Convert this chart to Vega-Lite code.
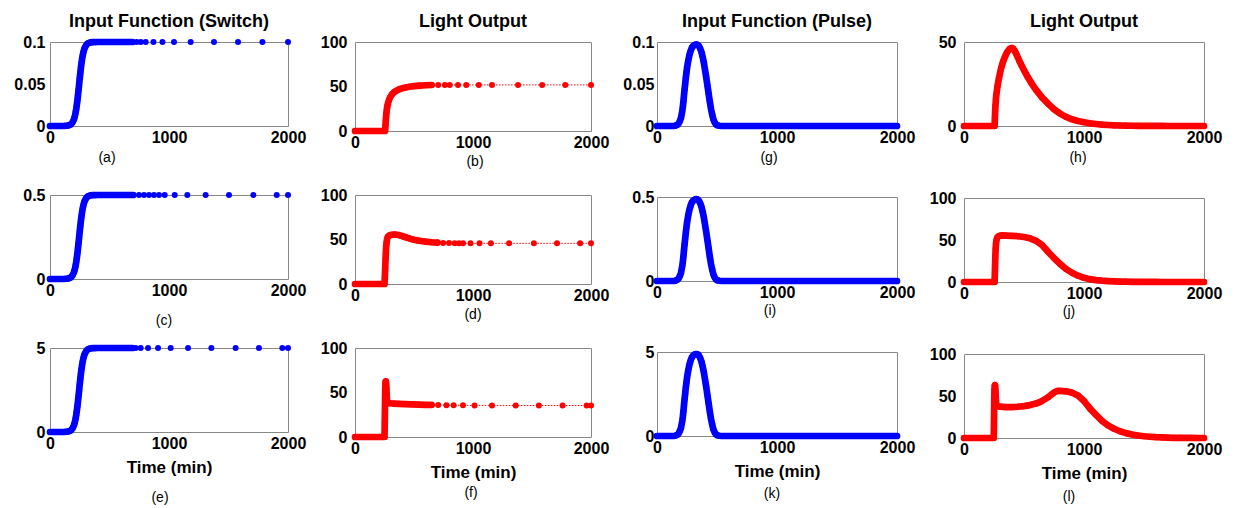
{
"$schema": "https://vega.github.io/schema/vega-lite/v6.json",
"background": "white",
"padding": {"left": 13, "top": 12, "right": 0, "bottom": 0},
"config": {
  "view": {"stroke": "#888888", "strokeWidth": 1},
  "font": "Liberation Sans",
  "title": {"font": "Liberation Sans", "fontSize": 14, "fontWeight": "normal", "color": "#000000", "anchor": "middle", "frame": "group"},
  "axis": {"labelFont": "Liberation Sans", "labelFontSize": 16, "labelFontWeight": "bold", "labelColor": "#000000", "domain": false, "ticks": false, "grid": false, "labelFlush": false, "labelOverlap": false, "titleFont": "Liberation Sans", "titleFontSize": 17, "titleFontWeight": "bold", "titleColor": "#000000"},
  "axisX": {"labelPadding": 3, "titlePadding": 8, "format": "d"},
  "axisY": {"labelPadding": 5, "format": ".2~f"}
},
"datasets": {
  "a": [{"t":0,"v":0},{"t":20,"v":0},{"t":40,"v":0},{"t":60,"v":0},{"t":80,"v":0},{"t":100,"v":0},{"t":120,"v":0.0001},{"t":140,"v":0.0003},{"t":150,"v":0.0005},{"t":160,"v":0.0009},{"t":170,"v":0.0015},{"t":180,"v":0.0026},{"t":190,"v":0.0045},{"t":200,"v":0.0076},{"t":205,"v":0.0098},{"t":210,"v":0.0125},{"t":215,"v":0.0159},{"t":220,"v":0.02},{"t":225,"v":0.0248},{"t":230,"v":0.0303},{"t":235,"v":0.0365},{"t":240,"v":0.0431},{"t":245,"v":0.05},{"t":250,"v":0.0569},{"t":255,"v":0.0635},{"t":260,"v":0.0697},{"t":265,"v":0.0752},{"t":270,"v":0.08},{"t":275,"v":0.0841},{"t":280,"v":0.0875},{"t":285,"v":0.0902},{"t":290,"v":0.0924},{"t":300,"v":0.0952},{"t":310,"v":0.0974},{"t":320,"v":0.0985},{"t":330,"v":0.0991},{"t":340,"v":0.0995},{"t":360,"v":0.0998},{"t":380,"v":0.0999},{"t":400,"v":0.1},{"t":450,"v":0.1},{"t":500,"v":0.1},{"t":550,"v":0.1},{"t":600,"v":0.1},{"t":650,"v":0.1},{"t":692,"v":0.1},{"t":728,"v":0.1},{"t":762,"v":0.1},{"t":804,"v":0.1},{"t":869,"v":0.1},{"t":945,"v":0.1},{"t":1042,"v":0.1},{"t":1182,"v":0.1},{"t":1378,"v":0.1},{"t":1580,"v":0.1},{"t":1785,"v":0.1},{"t":2000,"v":0.1}],
  "c": [{"t":0,"v":0},{"t":20,"v":0},{"t":40,"v":0},{"t":60,"v":0},{"t":80,"v":0},{"t":100,"v":0},{"t":120,"v":0.0005},{"t":140,"v":0.0015},{"t":150,"v":0.0025},{"t":160,"v":0.0045},{"t":170,"v":0.0075},{"t":180,"v":0.013},{"t":190,"v":0.0225},{"t":200,"v":0.038},{"t":205,"v":0.049},{"t":210,"v":0.0625},{"t":215,"v":0.0795},{"t":220,"v":0.1},{"t":225,"v":0.124},{"t":230,"v":0.1515},{"t":235,"v":0.1825},{"t":240,"v":0.2155},{"t":245,"v":0.25},{"t":250,"v":0.2845},{"t":255,"v":0.3175},{"t":260,"v":0.3485},{"t":265,"v":0.376},{"t":270,"v":0.4},{"t":275,"v":0.4205},{"t":280,"v":0.4375},{"t":285,"v":0.451},{"t":290,"v":0.462},{"t":300,"v":0.476},{"t":310,"v":0.487},{"t":320,"v":0.4925},{"t":330,"v":0.4955},{"t":340,"v":0.4975},{"t":360,"v":0.499},{"t":380,"v":0.4995},{"t":400,"v":0.5},{"t":450,"v":0.5},{"t":500,"v":0.5},{"t":550,"v":0.5},{"t":600,"v":0.5},{"t":650,"v":0.5},{"t":700,"v":0.5},{"t":748,"v":0.5},{"t":790,"v":0.5},{"t":832,"v":0.5},{"t":874,"v":0.5},{"t":916,"v":0.5},{"t":964,"v":0.5},{"t":1048,"v":0.5},{"t":1154,"v":0.5},{"t":1308,"v":0.5},{"t":1504,"v":0.5},{"t":1709,"v":0.5},{"t":1905,"v":0.5},{"t":2000,"v":0.5}],
  "e": [{"t":0,"v":0},{"t":20,"v":0},{"t":40,"v":0},{"t":60,"v":0},{"t":80,"v":0},{"t":100,"v":0},{"t":120,"v":0.005},{"t":140,"v":0.015},{"t":150,"v":0.025},{"t":160,"v":0.045},{"t":170,"v":0.075},{"t":180,"v":0.13},{"t":190,"v":0.225},{"t":200,"v":0.38},{"t":205,"v":0.49},{"t":210,"v":0.625},{"t":215,"v":0.795},{"t":220,"v":1},{"t":225,"v":1.24},{"t":230,"v":1.515},{"t":235,"v":1.825},{"t":240,"v":2.155},{"t":245,"v":2.5},{"t":250,"v":2.845},{"t":255,"v":3.175},{"t":260,"v":3.485},{"t":265,"v":3.76},{"t":270,"v":4},{"t":275,"v":4.205},{"t":280,"v":4.375},{"t":285,"v":4.51},{"t":290,"v":4.62},{"t":300,"v":4.76},{"t":310,"v":4.87},{"t":320,"v":4.925},{"t":330,"v":4.955},{"t":340,"v":4.975},{"t":360,"v":4.99},{"t":380,"v":4.995},{"t":400,"v":5},{"t":450,"v":5},{"t":500,"v":5},{"t":550,"v":5},{"t":600,"v":5},{"t":650,"v":5},{"t":692,"v":5},{"t":720,"v":5},{"t":762,"v":5},{"t":824,"v":5},{"t":908,"v":5},{"t":1014,"v":5},{"t":1160,"v":5},{"t":1356,"v":5},{"t":1560,"v":5},{"t":1756,"v":5},{"t":1952,"v":5},{"t":2000,"v":5}],
  "b": [{"t":0,"v":0},{"t":50,"v":0},{"t":100,"v":0},{"t":150,"v":0},{"t":200,"v":0},{"t":250,"v":0},{"t":255,"v":0},{"t":258,"v":6},{"t":261,"v":12},{"t":264,"v":17},{"t":267,"v":21},{"t":270,"v":24.5},{"t":275,"v":28.5},{"t":280,"v":31.5},{"t":290,"v":35.5},{"t":300,"v":38.5},{"t":315,"v":41.5},{"t":330,"v":43.5},{"t":350,"v":45.3},{"t":375,"v":46.9},{"t":400,"v":47.9},{"t":430,"v":48.9},{"t":460,"v":49.7},{"t":500,"v":50.4},{"t":550,"v":51},{"t":600,"v":51.4},{"t":650,"v":51.7},{"t":705,"v":51.8},{"t":761,"v":51.8},{"t":803,"v":51.8},{"t":873,"v":51.8},{"t":943,"v":51.8},{"t":1049,"v":51.8},{"t":1161,"v":51.8},{"t":1382,"v":51.8},{"t":1586,"v":51.8},{"t":1782,"v":51.8},{"t":2000,"v":51.8}],
  "d": [{"t":0,"v":0},{"t":50,"v":0},{"t":100,"v":0},{"t":150,"v":0},{"t":200,"v":0},{"t":250,"v":0},{"t":253,"v":8},{"t":256,"v":18},{"t":259,"v":28},{"t":262,"v":37},{"t":265,"v":43},{"t":268,"v":47},{"t":272,"v":50.5},{"t":278,"v":53},{"t":290,"v":54.5},{"t":310,"v":55.3},{"t":330,"v":55.5},{"t":350,"v":55.4},{"t":370,"v":55},{"t":390,"v":54.3},{"t":410,"v":53.4},{"t":430,"v":52.5},{"t":450,"v":51.6},{"t":475,"v":50.6},{"t":500,"v":49.8},{"t":530,"v":49},{"t":560,"v":48.3},{"t":600,"v":47.6},{"t":650,"v":46.9},{"t":700,"v":46.5},{"t":747,"v":46.2},{"t":797,"v":46},{"t":845,"v":45.9},{"t":881,"v":45.8},{"t":915,"v":45.8},{"t":979,"v":45.7},{"t":1055,"v":45.7},{"t":1152,"v":45.7},{"t":1306,"v":45.7},{"t":1516,"v":45.7},{"t":1712,"v":45.7},{"t":1908,"v":45.7},{"t":2000,"v":45.7}],
  "f": [{"t":0,"v":0},{"t":50,"v":0},{"t":100,"v":0},{"t":150,"v":0},{"t":200,"v":0},{"t":248,"v":0},{"t":250,"v":0},{"t":252,"v":15},{"t":254,"v":35},{"t":256,"v":52},{"t":258,"v":60},{"t":260,"v":62.5},{"t":262,"v":62.5},{"t":264,"v":60},{"t":266,"v":55},{"t":268,"v":48},{"t":270,"v":43},{"t":273,"v":40},{"t":277,"v":38.8},{"t":285,"v":38.2},{"t":300,"v":37.9},{"t":330,"v":37.6},{"t":370,"v":37.3},{"t":420,"v":37},{"t":480,"v":36.7},{"t":540,"v":36.4},{"t":600,"v":36.2},{"t":649,"v":36},{"t":705,"v":35.9},{"t":775,"v":35.8},{"t":836,"v":35.7},{"t":915,"v":35.6},{"t":1013,"v":35.5},{"t":1161,"v":35.5},{"t":1362,"v":35.4},{"t":1558,"v":35.4},{"t":1759,"v":35.4},{"t":1963,"v":35.4},{"t":2000,"v":35.4}],
  "g": [{"t":0,"v":0},{"t":50,"v":0},{"t":100,"v":0},{"t":140,"v":0},{"t":150,"v":0.0003},{"t":160,"v":0.0008},{"t":170,"v":0.0015},{"t":180,"v":0.0029},{"t":190,"v":0.0058},{"t":200,"v":0.0097},{"t":210,"v":0.0175},{"t":215,"v":0.0223},{"t":220,"v":0.0291},{"t":225,"v":0.0369},{"t":230,"v":0.0437},{"t":235,"v":0.0504},{"t":240,"v":0.0572},{"t":245,"v":0.0631},{"t":250,"v":0.0689},{"t":260,"v":0.0776},{"t":270,"v":0.0844},{"t":280,"v":0.0892},{"t":290,"v":0.0931},{"t":300,"v":0.0951},{"t":310,"v":0.096},{"t":320,"v":0.097},{"t":330,"v":0.097},{"t":340,"v":0.0965},{"t":350,"v":0.0951},{"t":360,"v":0.0922},{"t":370,"v":0.0883},{"t":380,"v":0.0825},{"t":390,"v":0.0757},{"t":400,"v":0.0669},{"t":410,"v":0.0582},{"t":420,"v":0.0485},{"t":430,"v":0.0388},{"t":440,"v":0.0291},{"t":450,"v":0.0204},{"t":460,"v":0.0136},{"t":470,"v":0.0078},{"t":480,"v":0.0044},{"t":490,"v":0.0021},{"t":500,"v":0.001},{"t":520,"v":0.0003},{"t":540,"v":0},{"t":580,"v":0},{"t":620,"v":0},{"t":660,"v":0},{"t":700,"v":0},{"t":740,"v":0},{"t":780,"v":0},{"t":820,"v":0},{"t":860,"v":0},{"t":900,"v":0},{"t":940,"v":0},{"t":980,"v":0},{"t":1020,"v":0},{"t":1060,"v":0},{"t":1100,"v":0},{"t":1140,"v":0},{"t":1180,"v":0},{"t":1220,"v":0},{"t":1260,"v":0},{"t":1300,"v":0},{"t":1340,"v":0},{"t":1380,"v":0},{"t":1420,"v":0},{"t":1460,"v":0},{"t":1500,"v":0},{"t":1540,"v":0},{"t":1580,"v":0},{"t":1620,"v":0},{"t":1660,"v":0},{"t":1700,"v":0},{"t":1740,"v":0},{"t":1780,"v":0},{"t":1820,"v":0},{"t":1860,"v":0},{"t":1900,"v":0},{"t":1940,"v":0},{"t":1980,"v":0},{"t":2000,"v":0}],
  "i": [{"t":0,"v":0},{"t":50,"v":0},{"t":100,"v":0},{"t":140,"v":0},{"t":150,"v":0.0015},{"t":160,"v":0.0039},{"t":170,"v":0.0073},{"t":180,"v":0.0146},{"t":190,"v":0.0292},{"t":200,"v":0.0487},{"t":210,"v":0.0877},{"t":215,"v":0.112},{"t":220,"v":0.146},{"t":225,"v":0.185},{"t":230,"v":0.219},{"t":235,"v":0.253},{"t":240,"v":0.287},{"t":245,"v":0.317},{"t":250,"v":0.346},{"t":260,"v":0.39},{"t":270,"v":0.424},{"t":280,"v":0.448},{"t":290,"v":0.468},{"t":300,"v":0.477},{"t":310,"v":0.482},{"t":320,"v":0.487},{"t":330,"v":0.487},{"t":340,"v":0.485},{"t":350,"v":0.477},{"t":360,"v":0.463},{"t":370,"v":0.443},{"t":380,"v":0.414},{"t":390,"v":0.38},{"t":400,"v":0.336},{"t":410,"v":0.292},{"t":420,"v":0.244},{"t":430,"v":0.195},{"t":440,"v":0.146},{"t":450,"v":0.102},{"t":460,"v":0.068},{"t":470,"v":0.039},{"t":480,"v":0.022},{"t":490,"v":0.0107},{"t":500,"v":0.0049},{"t":520,"v":0.0015},{"t":540,"v":0},{"t":580,"v":0},{"t":620,"v":0},{"t":660,"v":0},{"t":700,"v":0},{"t":740,"v":0},{"t":780,"v":0},{"t":820,"v":0},{"t":860,"v":0},{"t":900,"v":0},{"t":940,"v":0},{"t":980,"v":0},{"t":1020,"v":0},{"t":1060,"v":0},{"t":1100,"v":0},{"t":1140,"v":0},{"t":1180,"v":0},{"t":1220,"v":0},{"t":1260,"v":0},{"t":1300,"v":0},{"t":1340,"v":0},{"t":1380,"v":0},{"t":1420,"v":0},{"t":1460,"v":0},{"t":1500,"v":0},{"t":1540,"v":0},{"t":1580,"v":0},{"t":1620,"v":0},{"t":1660,"v":0},{"t":1700,"v":0},{"t":1740,"v":0},{"t":1780,"v":0},{"t":1820,"v":0},{"t":1860,"v":0},{"t":1900,"v":0},{"t":1940,"v":0},{"t":1980,"v":0},{"t":2000,"v":0}],
  "k": [{"t":0,"v":0},{"t":50,"v":0},{"t":100,"v":0},{"t":140,"v":0},{"t":150,"v":0.015},{"t":160,"v":0.039},{"t":170,"v":0.073},{"t":180,"v":0.146},{"t":190,"v":0.293},{"t":200,"v":0.488},{"t":210,"v":0.878},{"t":215,"v":1.12},{"t":220,"v":1.46},{"t":225,"v":1.85},{"t":230,"v":2.2},{"t":235,"v":2.54},{"t":240,"v":2.88},{"t":245,"v":3.17},{"t":250,"v":3.46},{"t":260,"v":3.9},{"t":270,"v":4.25},{"t":280,"v":4.49},{"t":290,"v":4.68},{"t":300,"v":4.78},{"t":310,"v":4.83},{"t":320,"v":4.88},{"t":330,"v":4.88},{"t":340,"v":4.86},{"t":350,"v":4.78},{"t":360,"v":4.64},{"t":370,"v":4.44},{"t":380,"v":4.15},{"t":390,"v":3.81},{"t":400,"v":3.37},{"t":410,"v":2.93},{"t":420,"v":2.44},{"t":430,"v":1.95},{"t":440,"v":1.46},{"t":450,"v":1.02},{"t":460,"v":0.68},{"t":470,"v":0.39},{"t":480,"v":0.22},{"t":490,"v":0.107},{"t":500,"v":0.049},{"t":520,"v":0.015},{"t":540,"v":0},{"t":580,"v":0},{"t":620,"v":0},{"t":660,"v":0},{"t":700,"v":0},{"t":740,"v":0},{"t":780,"v":0},{"t":820,"v":0},{"t":860,"v":0},{"t":900,"v":0},{"t":940,"v":0},{"t":980,"v":0},{"t":1020,"v":0},{"t":1060,"v":0},{"t":1100,"v":0},{"t":1140,"v":0},{"t":1180,"v":0},{"t":1220,"v":0},{"t":1260,"v":0},{"t":1300,"v":0},{"t":1340,"v":0},{"t":1380,"v":0},{"t":1420,"v":0},{"t":1460,"v":0},{"t":1500,"v":0},{"t":1540,"v":0},{"t":1580,"v":0},{"t":1620,"v":0},{"t":1660,"v":0},{"t":1700,"v":0},{"t":1740,"v":0},{"t":1780,"v":0},{"t":1820,"v":0},{"t":1860,"v":0},{"t":1900,"v":0},{"t":1940,"v":0},{"t":1980,"v":0},{"t":2000,"v":0}],
  "h": [{"t":0,"v":0},{"t":50,"v":0},{"t":100,"v":0},{"t":150,"v":0},{"t":200,"v":0},{"t":250,"v":0},{"t":255,"v":0},{"t":258,"v":6},{"t":262,"v":12},{"t":266,"v":16},{"t":270,"v":19},{"t":280,"v":24},{"t":290,"v":28},{"t":300,"v":31.5},{"t":310,"v":34.5},{"t":320,"v":37},{"t":330,"v":39.2},{"t":340,"v":41},{"t":350,"v":42.6},{"t":360,"v":44},{"t":370,"v":45},{"t":380,"v":45.8},{"t":390,"v":46.3},{"t":400,"v":46.5},{"t":410,"v":46},{"t":420,"v":45},{"t":430,"v":43.7},{"t":440,"v":42.2},{"t":460,"v":39},{"t":480,"v":36},{"t":500,"v":33.2},{"t":530,"v":29.3},{"t":560,"v":25.7},{"t":600,"v":21.5},{"t":650,"v":17},{"t":700,"v":13.3},{"t":750,"v":10},{"t":800,"v":7.4},{"t":850,"v":5.4},{"t":900,"v":4},{"t":950,"v":3},{"t":1000,"v":2.2},{"t":1050,"v":1.6},{"t":1100,"v":1.2},{"t":1150,"v":0.85},{"t":1200,"v":0.6},{"t":1250,"v":0.42},{"t":1300,"v":0.3},{"t":1350,"v":0.2},{"t":1400,"v":0.15},{"t":1450,"v":0.1},{"t":1500,"v":0.07},{"t":1550,"v":0.05},{"t":1600,"v":0.03},{"t":1650,"v":0.02},{"t":1700,"v":0.01},{"t":1750,"v":0},{"t":1800,"v":0},{"t":1850,"v":0},{"t":1900,"v":0},{"t":1950,"v":0},{"t":2000,"v":0}],
  "j": [{"t":0,"v":0},{"t":50,"v":0},{"t":100,"v":0},{"t":150,"v":0},{"t":200,"v":0},{"t":250,"v":0},{"t":255,"v":0},{"t":258,"v":15},{"t":261,"v":30},{"t":264,"v":40},{"t":267,"v":46},{"t":270,"v":49.5},{"t":275,"v":52},{"t":280,"v":53.5},{"t":290,"v":54.7},{"t":300,"v":55.2},{"t":320,"v":55.4},{"t":350,"v":55.3},{"t":400,"v":55},{"t":450,"v":54.5},{"t":500,"v":53.6},{"t":550,"v":52},{"t":600,"v":49},{"t":650,"v":44},{"t":700,"v":36},{"t":750,"v":28.5},{"t":800,"v":21.5},{"t":850,"v":15.5},{"t":900,"v":11},{"t":950,"v":7.5},{"t":1000,"v":5},{"t":1050,"v":3.4},{"t":1100,"v":2.3},{"t":1150,"v":1.6},{"t":1200,"v":1.1},{"t":1250,"v":0.75},{"t":1300,"v":0.5},{"t":1350,"v":0.35},{"t":1400,"v":0.25},{"t":1450,"v":0.17},{"t":1500,"v":0.12},{"t":1550,"v":0.08},{"t":1600,"v":0.05},{"t":1650,"v":0.03},{"t":1700,"v":0.02},{"t":1750,"v":0},{"t":1800,"v":0},{"t":1850,"v":0},{"t":1900,"v":0},{"t":1950,"v":0},{"t":2000,"v":0}],
  "l": [{"t":0,"v":0},{"t":50,"v":0},{"t":100,"v":0},{"t":150,"v":0},{"t":200,"v":0},{"t":248,"v":0},{"t":250,"v":20},{"t":252,"v":45},{"t":254,"v":58},{"t":256,"v":62.5},{"t":258,"v":63},{"t":260,"v":62},{"t":262,"v":57},{"t":264,"v":50},{"t":266,"v":44},{"t":268,"v":41},{"t":272,"v":39},{"t":280,"v":38},{"t":300,"v":37.3},{"t":350,"v":36.8},{"t":400,"v":36.8},{"t":450,"v":37.2},{"t":500,"v":38},{"t":550,"v":39.2},{"t":600,"v":41},{"t":650,"v":44},{"t":700,"v":48.5},{"t":740,"v":53},{"t":760,"v":55},{"t":780,"v":56},{"t":800,"v":56},{"t":850,"v":55.6},{"t":900,"v":54},{"t":950,"v":50.5},{"t":1000,"v":44},{"t":1050,"v":35},{"t":1100,"v":27.5},{"t":1150,"v":20.5},{"t":1200,"v":15},{"t":1250,"v":11},{"t":1300,"v":8},{"t":1350,"v":5.8},{"t":1400,"v":4.2},{"t":1450,"v":3},{"t":1500,"v":2.1},{"t":1550,"v":1.5},{"t":1600,"v":1},{"t":1650,"v":0.7},{"t":1700,"v":0.4},{"t":1750,"v":0.25},{"t":1800,"v":0.15},{"t":1850,"v":0.1},{"t":1900,"v":0.05},{"t":1950,"v":0.02},{"t":2000,"v":0}]
},
"spacing": 12,
"hconcat": [
  {"title": {"text": "Input Function (Switch)", "fontSize": 18, "fontWeight": "bold", "offset": 3, "anchor": "middle", "frame": "group", "dx": 119}, "spacing": 69, "bounds": "flush",
   "vconcat": [
    {"width": 238, "height": 84, "title": {"text": "(a)", "orient": "bottom", "offset": 6, "dx": -62}, "data": {"name": "a"},
     "encoding": {"x": {"field": "t", "type": "quantitative", "scale": {"domain": [0, 2000], "nice": false}, "axis": {"values": [0, 1000, 2000], "title": null}},
                  "y": {"field": "v", "type": "quantitative", "scale": {"domain": [0, 0.1], "nice": false}, "axis": {"values": [0, 0.05, 0.1], "title": null}}},
     "layer": [
      {"transform": [{"filter": "datum.t <= 700"}], "mark": {"type": "line", "color": "#0000ff", "strokeWidth": 6.7, "strokeCap": "round", "strokeJoin": "round"}, "encoding": {}},
      {"mark": {"type": "circle", "color": "#0000ff", "size": 36, "opacity": 1}, "encoding": {}}]},
    {"width": 238, "height": 84, "title": {"text": "(c)", "orient": "bottom", "offset": 16, "dx": -5}, "data": {"name": "c"},
     "encoding": {"x": {"field": "t", "type": "quantitative", "scale": {"domain": [0, 2000], "nice": false}, "axis": {"values": [0, 1000, 2000], "title": null}},
                  "y": {"field": "v", "type": "quantitative", "scale": {"domain": [0, 0.5], "nice": false}, "axis": {"values": [0, 0.5], "title": null}}},
     "layer": [
      {"transform": [{"filter": "datum.t <= 700"}], "mark": {"type": "line", "color": "#0000ff", "strokeWidth": 6.7, "strokeCap": "round", "strokeJoin": "round"}, "encoding": {}},
      {"mark": {"type": "circle", "color": "#0000ff", "size": 36, "opacity": 1}, "encoding": {}}]},
    {"width": 238, "height": 84, "title": {"text": "(e)", "orient": "bottom", "offset": 16, "dx": -9}, "data": {"name": "e"},
     "encoding": {"x": {"field": "t", "type": "quantitative", "scale": {"domain": [0, 2000], "nice": false}, "axis": {"values": [0, 1000, 2000], "title": "Time (min)"}},
                  "y": {"field": "v", "type": "quantitative", "scale": {"domain": [0, 5], "nice": false}, "axis": {"values": [0, 5], "title": null}}},
     "layer": [
      {"transform": [{"filter": "datum.t <= 700"}], "mark": {"type": "line", "color": "#0000ff", "strokeWidth": 6.7, "strokeCap": "round", "strokeJoin": "round"}, "encoding": {}},
      {"mark": {"type": "circle", "color": "#0000ff", "size": 36, "opacity": 1}, "encoding": {}}]}
   ]},
  {"title": {"text": "Light Output", "fontSize": 18, "fontWeight": "bold", "offset": 3, "anchor": "middle", "frame": "group", "dx": 118}, "spacing": 64, "bounds": "flush",
   "vconcat": [
    {"width": 236, "height": 89, "title": {"text": "(b)", "orient": "bottom", "offset": 5, "dx": 2}, "data": {"name": "b"},
     "encoding": {"x": {"field": "t", "type": "quantitative", "scale": {"domain": [0, 2000], "nice": false}, "axis": {"values": [0, 1000, 2000], "title": null}},
                  "y": {"field": "v", "type": "quantitative", "scale": {"domain": [0, 100], "nice": false}, "axis": {"values": [0, 50, 100], "title": null, "labelPadding": 8}}},
     "layer": [
      {"transform": [{"filter": "datum.t <= 700"}], "mark": {"type": "line", "color": "#ff0000", "strokeWidth": 6.7, "strokeCap": "round", "strokeJoin": "round"}, "encoding": {}},
      {"mark": {"type": "line", "color": "#ff0000", "strokeWidth": 1, "strokeDash": [1.5, 1.5]}, "encoding": {}},
      {"mark": {"type": "circle", "color": "#ff0000", "size": 36, "opacity": 1}, "encoding": {}}]},
    {"width": 236, "height": 89, "title": {"text": "(d)", "orient": "bottom", "offset": 5, "dx": 0}, "data": {"name": "d"},
     "encoding": {"x": {"field": "t", "type": "quantitative", "scale": {"domain": [0, 2000], "nice": false}, "axis": {"values": [0, 1000, 2000], "title": null}},
                  "y": {"field": "v", "type": "quantitative", "scale": {"domain": [0, 100], "nice": false}, "axis": {"values": [0, 50, 100], "title": null, "labelPadding": 8}}},
     "layer": [
      {"transform": [{"filter": "datum.t <= 700"}], "mark": {"type": "line", "color": "#ff0000", "strokeWidth": 6.7, "strokeCap": "round", "strokeJoin": "round"}, "encoding": {}},
      {"mark": {"type": "line", "color": "#ff0000", "strokeWidth": 1, "strokeDash": [1.5, 1.5]}, "encoding": {}},
      {"mark": {"type": "circle", "color": "#ff0000", "size": 36, "opacity": 1}, "encoding": {}}]},
    {"width": 236, "height": 89, "title": {"text": "(f)", "orient": "bottom", "offset": 6, "dx": -2}, "data": {"name": "f"},
     "encoding": {"x": {"field": "t", "type": "quantitative", "scale": {"domain": [0, 2000], "nice": false}, "axis": {"values": [0, 1000, 2000], "title": "Time (min)"}},
                  "y": {"field": "v", "type": "quantitative", "scale": {"domain": [0, 100], "nice": false}, "axis": {"values": [0, 50, 100], "title": null, "labelPadding": 8}}},
     "layer": [
      {"transform": [{"filter": "datum.t <= 700"}], "mark": {"type": "line", "color": "#ff0000", "strokeWidth": 6.7, "strokeCap": "round", "strokeJoin": "round"}, "encoding": {}},
      {"mark": {"type": "line", "color": "#ff0000", "strokeWidth": 1, "strokeDash": [1.5, 1.5]}, "encoding": {}},
      {"mark": {"type": "circle", "color": "#ff0000", "size": 36, "opacity": 1}, "encoding": {}}]}
   ]},
  {"title": {"text": "Input Function (Pulse)", "fontSize": 18, "fontWeight": "bold", "offset": 3, "anchor": "middle", "frame": "group", "dx": 120}, "spacing": 71, "bounds": "flush",
   "vconcat": [
    {"width": 240, "height": 84, "title": {"text": "(g)", "orient": "bottom", "offset": 6, "dx": -8}, "data": {"name": "g"},
     "encoding": {"x": {"field": "t", "type": "quantitative", "scale": {"domain": [0, 2000], "nice": false}, "axis": {"values": [0, 1000, 2000], "title": null}},
                  "y": {"field": "v", "type": "quantitative", "scale": {"domain": [0, 0.1], "nice": false}, "axis": {"values": [0, 0.05, 0.1], "title": null, "labelPadding": 3}}},
     "layer": [
      {"mark": {"type": "line", "color": "#0000ff", "strokeWidth": 6.7, "strokeCap": "round", "strokeJoin": "round"}, "encoding": {}},
      {"mark": {"type": "circle", "color": "#0000ff", "size": 36, "opacity": 1}, "encoding": {}}]},
    {"width": 240, "height": 84, "title": {"text": "(i)", "orient": "bottom", "offset": 4, "dx": -7}, "data": {"name": "i"},
     "encoding": {"x": {"field": "t", "type": "quantitative", "scale": {"domain": [0, 2000], "nice": false}, "axis": {"values": [0, 1000, 2000], "title": null}},
                  "y": {"field": "v", "type": "quantitative", "scale": {"domain": [0, 0.5], "nice": false}, "axis": {"values": [0, 0.5], "title": null, "labelPadding": 3}}},
     "layer": [
      {"mark": {"type": "line", "color": "#0000ff", "strokeWidth": 6.7, "strokeCap": "round", "strokeJoin": "round"}, "encoding": {}},
      {"mark": {"type": "circle", "color": "#0000ff", "size": 36, "opacity": 1}, "encoding": {}}]},
    {"width": 240, "height": 84, "title": {"text": "(k)", "orient": "bottom", "offset": 8, "dx": -5}, "data": {"name": "k"},
     "encoding": {"x": {"field": "t", "type": "quantitative", "scale": {"domain": [0, 2000], "nice": false}, "axis": {"values": [0, 1000, 2000], "title": "Time (min)"}},
                  "y": {"field": "v", "type": "quantitative", "scale": {"domain": [0, 5], "nice": false}, "axis": {"values": [0, 5], "title": null, "labelPadding": 3}}},
     "layer": [
      {"mark": {"type": "line", "color": "#0000ff", "strokeWidth": 6.7, "strokeCap": "round", "strokeJoin": "round"}, "encoding": {}},
      {"mark": {"type": "circle", "color": "#0000ff", "size": 36, "opacity": 1}, "encoding": {}}]}
   ]},
  {"title": {"text": "Light Output", "fontSize": 18, "fontWeight": "bold", "offset": 3, "anchor": "middle", "frame": "group", "dx": 120}, "spacing": 72, "bounds": "flush",
   "vconcat": [
    {"width": 240, "height": 84, "title": {"text": "(h)", "orient": "bottom", "offset": 6, "dx": -6}, "data": {"name": "h"},
     "encoding": {"x": {"field": "t", "type": "quantitative", "scale": {"domain": [0, 2000], "nice": false}, "axis": {"values": [0, 1000, 2000], "title": null}},
                  "y": {"field": "v", "type": "quantitative", "scale": {"domain": [0, 50], "nice": false}, "axis": {"values": [0, 50], "title": null, "labelPadding": 8}}},
     "layer": [
      {"mark": {"type": "line", "color": "#ff0000", "strokeWidth": 6.7, "strokeCap": "round", "strokeJoin": "round"}, "encoding": {}},
      {"mark": {"type": "circle", "color": "#ff0000", "size": 36, "opacity": 1}, "encoding": {}}]},
    {"width": 240, "height": 84, "title": {"text": "(j)", "orient": "bottom", "offset": 4, "dx": -15}, "data": {"name": "j"},
     "encoding": {"x": {"field": "t", "type": "quantitative", "scale": {"domain": [0, 2000], "nice": false}, "axis": {"values": [0, 1000, 2000], "title": null}},
                  "y": {"field": "v", "type": "quantitative", "scale": {"domain": [0, 100], "nice": false}, "axis": {"values": [0, 50, 100], "title": null, "labelPadding": 8}}},
     "layer": [
      {"mark": {"type": "line", "color": "#ff0000", "strokeWidth": 6.7, "strokeCap": "round", "strokeJoin": "round"}, "encoding": {}},
      {"mark": {"type": "circle", "color": "#ff0000", "size": 36, "opacity": 1}, "encoding": {}}]},
    {"width": 240, "height": 84, "title": {"text": "(l)", "orient": "bottom", "offset": 9, "dx": -15}, "data": {"name": "l"},
     "encoding": {"x": {"field": "t", "type": "quantitative", "scale": {"domain": [0, 2000], "nice": false}, "axis": {"values": [0, 1000, 2000], "title": "Time (min)"}},
                  "y": {"field": "v", "type": "quantitative", "scale": {"domain": [0, 100], "nice": false}, "axis": {"values": [0, 50, 100], "title": null, "labelPadding": 8}}},
     "layer": [
      {"mark": {"type": "line", "color": "#ff0000", "strokeWidth": 6.7, "strokeCap": "round", "strokeJoin": "round"}, "encoding": {}},
      {"mark": {"type": "circle", "color": "#ff0000", "size": 36, "opacity": 1}, "encoding": {}}]}
   ]}
]
}
